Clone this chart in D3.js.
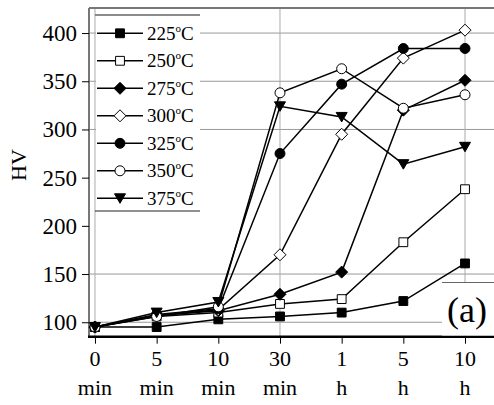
<!DOCTYPE html>
<html>
<head>
<meta charset="utf-8">
<script src="https://cdn.jsdelivr.net/npm/d3@7"></script>
<style>
  body { margin: 0; background: #fff; }
  text { font-family: "Liberation Serif", "Times New Roman", serif; fill: #000; }
</style>
</head>
<body>
<div id="chart"></div>
<script>
// times along the x axis (two-line tick labels)
const tickTop = ["0", "5", "10", "30", "1", "5", "10"];
const tickBottom = ["min", "min", "min", "min", "h", "h", "h"];
const yTicks = [100, 150, 200, 250, 300, 350, 400];

const temps = ["225", "250", "275", "300", "325", "350", "375"];
const symbols = ["square", "square", "diamond", "diamond", "circle", "circle", "triangle"];
const filled = [true, false, true, false, true, false, true];

const hv225 = [95, 95, 103, 106, 110, 122, 161];
const hv250 = [95, 106, 110, 119, 124, 183, 238];
const hv275 = [95, 107, 112, 129, 152, 320, 351];
const hv300 = [95, 107, 113, 170, 295, 374, 403];
const hv325 = [95, 108, 114, 275, 347, 384, 384];
const hv350 = [95, 106, 116, 338, 363, 322, 336];
const hv375 = [95, 110, 121, 324, 313, 264, 282];
const allSeries = [hv225, hv250, hv275, hv300, hv325, hv350, hv375];

const W = 494, H = 405;
const plotL = 89, plotR = 494, plotT = 8, plotB = 336.7;

const svg = d3.select("#chart").append("svg")
    .attr("width", W)
    .attr("height", H);

const x = d3.scaleLinear().domain([-0.097, 6.47]).range([plotL, plotR]);
const y = d3.scaleLinear().domain([85, 426]).range([plotB, plotT]);

// grid lines (only some are drawn in the original)
const gridY = [100, 150, 300, 350, 400];
const gridX = [0, 3, 6];
svg.append("g").selectAll("line")
    .data(gridY).enter().append("line")
    .attr("x1", plotL).attr("x2", plotR)
    .attr("y1", d => y(d)).attr("y2", d => y(d))
    .attr("stroke", "#999").attr("stroke-width", 1);
svg.append("g").selectAll("line")
    .data(gridX).enter().append("line")
    .attr("x1", d => x(d)).attr("x2", d => x(d))
    .attr("y1", plotT).attr("y2", plotB)
    .attr("stroke", "#aaa").attr("stroke-width", 1);

// frame
svg.append("line").attr("x1", plotL).attr("x2", plotR).attr("y1", plotT).attr("y2", plotT)
    .attr("stroke", "#777").attr("stroke-width", 2);
svg.append("line").attr("x1", plotL).attr("x2", plotL).attr("y1", plotT).attr("y2", plotB)
    .attr("stroke", "#777").attr("stroke-width", 2);

// y axis
const yAxis = svg.append("g")
    .attr("transform", `translate(${plotL},0)`)
    .call(d3.axisLeft(y).tickValues(yTicks).tickSize(7).tickPadding(5));
yAxis.select(".domain").remove();
yAxis.selectAll("text").style("font-size", "23px")
    .style("font-family", "Liberation Serif, Times New Roman, serif");

// x axis
const xAxis = svg.append("g")
    .attr("transform", `translate(0,${plotB})`)
    .call(d3.axisBottom(x).tickValues(d3.range(7)).tickSize(7).tickFormat(""));
xAxis.select(".domain").remove();
svg.append("line").attr("x1", plotL - 1).attr("x2", plotR).attr("y1", plotB).attr("y2", plotB)
    .attr("stroke", "#000").attr("stroke-width", 2.5);

svg.append("g").selectAll("text").data(tickTop).enter().append("text")
    .attr("x", (d, i) => x(i)).attr("y", 365.5)
    .attr("text-anchor", "middle").style("font-size", "22px")
    .text(d => d);
svg.append("g").selectAll("text").data(tickBottom).enter().append("text")
    .attr("x", (d, i) => x(i)).attr("y", 395)
    .attr("text-anchor", "middle").style("font-size", "22px")
    .text(d => d);

svg.append("text")
    .attr("transform", "translate(26,165) rotate(-90)")
    .attr("text-anchor", "middle").style("font-size", "22px")
    .text("HV");

function symbolPath(kind) {
    if (kind === "square") return d3.symbol(d3.symbolSquare, 78)();
    if (kind === "diamond") return "M0,-6L6,0L0,6L-6,0Z";
    if (kind === "circle") return d3.symbol(d3.symbolCircle, 78)();
    return "M-5.5,-4.5L5.5,-4.5L0,5Z";
}

const line = d3.line().x((d, i) => x(i)).y(d => y(d));

allSeries.forEach((vals, s) => {
    const g = svg.append("g");
    g.append("path")
        .datum(vals)
        .attr("fill", "none")
        .attr("stroke", "#000")
        .attr("stroke-width", 1.5)
        .attr("d", line);
    g.selectAll("path.m")
        .data(vals).enter().append("path")
        .attr("class", "m")
        .attr("transform", (d, i) => `translate(${x(i)},${y(d)})`)
        .attr("d", symbolPath(symbols[s]))
        .attr("fill", filled[s] ? "#000" : "#fff")
        .attr("stroke", "#000")
        .attr("stroke-width", 1);
});

// legend
const lg = svg.append("g");
lg.append("rect").attr("x", 96).attr("y", 15).attr("width", 104).attr("height", 196)
    .attr("fill", "#fff");
lg.append("line").attr("x1", 95).attr("x2", 200).attr("y1", 15).attr("y2", 15)
    .attr("stroke", "#666").attr("stroke-width", 1.5);
lg.append("line").attr("x1", 95).attr("x2", 200).attr("y1", 211).attr("y2", 211)
    .attr("stroke", "#222").attr("stroke-width", 1.2);
temps.forEach((t, i) => {
    const cy = 33.3 + i * 27.5;
    lg.append("line").attr("x1", 97).attr("x2", 143).attr("y1", cy).attr("y2", cy)
        .attr("stroke", "#000").attr("stroke-width", 1.5);
    lg.append("path")
        .attr("transform", `translate(120,${cy})`)
        .attr("d", symbolPath(symbols[i]))
        .attr("fill", filled[i] ? "#000" : "#fff")
        .attr("stroke", "#000");
    const tx = lg.append("text").attr("x", 147).attr("y", cy + 6.5).style("font-size", "19px");
    tx.append("tspan").text(t);
    tx.append("tspan").attr("dy", -8).style("font-size", "11px").text("o");
    tx.append("tspan").attr("dy", 8).text("C");
});

// (a) label box
svg.append("rect").attr("x", 442).attr("y", 282.5).attr("width", 52).attr("height", plotB - 283.7)
    .attr("fill", "#fff");
svg.append("line").attr("x1", 442).attr("x2", 494).attr("y1", 282.5).attr("y2", 282.5)
    .attr("stroke", "#666").attr("stroke-width", 1);
svg.append("text").attr("x", 447).attr("y", 322).style("font-size", "36px").text("(a)");
</script>
</body>
</html>
